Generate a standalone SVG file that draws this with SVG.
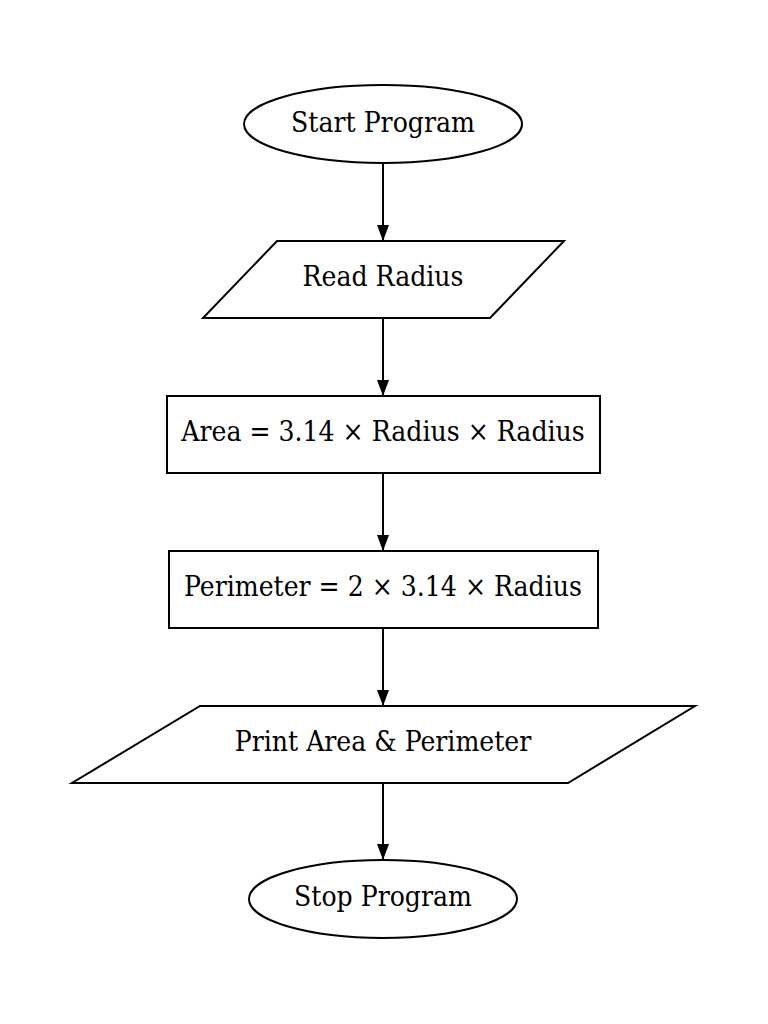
<svg xmlns="http://www.w3.org/2000/svg" width="768" height="1024" viewBox="0 0 768 1024">
<style>
.s{fill:#fff;stroke:#000;stroke-width:2}
.t{font-family:"DejaVu Serif Condensed","DejaVu Serif",serif;font-stretch:condensed;font-size:28px;text-anchor:middle;dominant-baseline:central;fill:#000}
.e{stroke:#000;stroke-width:2;fill:none;marker-end:url(#a)}
</style>
<defs><marker id="a" markerWidth="16" markerHeight="16" refX="16" refY="8" orient="auto" markerUnits="userSpaceOnUse" viewBox="0 0 16 16"><path d="M0,2L16,8L0,14z" fill="#000"/></marker></defs>
<rect width="768" height="1024" fill="#fff"/>
<g id="edges">
<line class="e" x1="383" y1="163" x2="383" y2="241"/>
<line class="e" x1="383" y1="318" x2="383" y2="396"/>
<line class="e" x1="383" y1="473" x2="383" y2="551"/>
<line class="e" x1="383" y1="628" x2="383" y2="706"/>
<line class="e" x1="383" y1="783" x2="383" y2="860"/>
</g>
<g id="start"><ellipse class="s" cx="383" cy="124" rx="139" ry="39"/><text class="t" x="383" y="122">Start Program</text></g>
<g id="read"><polygon class="s" points="277,241 564,241 490,318 203,318"/><text class="t" x="383" y="276">Read Radius</text></g>
<g id="area"><rect class="s" x="167" y="396" width="433" height="77"/><text class="t" x="383" y="431">Area = 3.14 × Radius × Radius</text></g>
<g id="perim"><rect class="s" x="169" y="551" width="429" height="77"/><text class="t" x="383" y="586">Perimeter = 2 × 3.14 × Radius</text></g>
<g id="print"><polygon class="s" points="200,706 695,706 568,783 72,783"/><text class="t" x="383" y="741">Print Area &amp; Perimeter</text></g>
<g id="stop"><ellipse class="s" cx="383" cy="899" rx="134" ry="39"/><text class="t" x="383" y="896">Stop Program</text></g>
</svg>
